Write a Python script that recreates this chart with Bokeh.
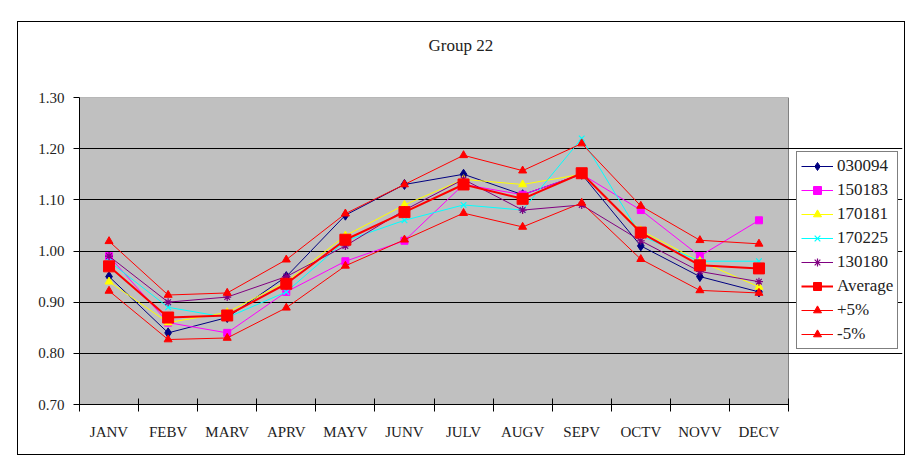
from bokeh.plotting import figure
from bokeh.models import (FixedTicker, Legend, LegendItem, Range1d,
                          PrintfTickFormatter, LinearAxis, CustomJSTickFormatter)
from bokeh.embed import file_html
from bokeh.resources import INLINE

months = ["JANV", "FEBV", "MARV", "APRV", "MAYV", "JUNV",
          "JULV", "AUGV", "SEPV", "OCTV", "NOVV", "DECV"]

s030094 = [0.95, 0.84, 0.87, 0.95, 1.07, 1.13, 1.15, 1.11, 1.15, 1.01, 0.95, 0.92]
s150183 = [0.99, 0.86, 0.84, 0.92, 0.98, 1.02, 1.13, 1.11, 1.15, 1.08, 0.99, 1.06]
s170181 = [0.94, 0.86, 0.88, 0.94, 1.03, 1.09, 1.14, 1.13, 1.15, 1.04, 0.98, 0.93]
s170225 = [0.98, 0.89, 0.87, 0.92, 1.02, 1.06, 1.09, 1.08, 1.22, 1.03, 0.98, 0.98]
s130180 = [0.99, 0.90, 0.91, 0.95, 1.01, 1.08, 1.14, 1.08, 1.09, 1.02, 0.96, 0.94]
average = [0.970, 0.870, 0.874, 0.936, 1.022, 1.076, 1.130, 1.102, 1.152, 1.036, 0.972, 0.966]
plus5 = [1.019, 0.914, 0.918, 0.983, 1.073, 1.130, 1.187, 1.157, 1.210, 1.088, 1.021, 1.014]
minus5 = [0.922, 0.827, 0.830, 0.889, 0.971, 1.022, 1.074, 1.047, 1.094, 0.984, 0.923, 0.918]

y_ticks = [0.70, 0.80, 0.90, 1.00, 1.10, 1.20, 1.30]
grid_ticks = [0.80, 0.90, 1.00, 1.10, 1.20]
y_lo, y_hi = 0.70, 1.30

FONT = "Liberation Serif"

n = len(months)
xc = [i + 0.5 for i in range(n)]

FW, FH = 823, 307          # frame (grey plot area + legend strip)
PLOT_W = 709               # width of the grey plot area in px
x_end = n * FW / PLOT_W

p = figure(frame_width=FW, frame_height=FH,
           x_range=Range1d(0, x_end), y_range=Range1d(y_lo, y_hi),
           output_backend="svg", toolbar_location=None,
           min_border_left=61, min_border_right=2,
           min_border_top=75, min_border_bottom=50)
p.styles = {"outline": "1.5px solid black", "transform": "translate(18px, 22px)"}

xa = p.below[0]
ya = p.left[0]

p.background_fill_color = "white"
p.border_fill_color = "white"
p.outline_line_color = None

# grey plot area
p.quad(left=0, right=n, bottom=y_lo, top=y_hi, fill_color="#C0C0C0",
       line_color="#808080", line_width=1, level="image")

# invisible spacer axis between the plot area and the title
spacer_axis = LinearAxis(ticker=FixedTicker(ticks=[0], minor_ticks=[]),
                         formatter=CustomJSTickFormatter(code="return ''"),
                         axis_line_color=None, major_tick_line_color=None,
                         minor_tick_line_color=None, major_tick_out=31,
                         major_tick_in=0, major_label_standoff=0,
                         major_label_text_font_size="0px")
p.add_layout(spacer_axis, "above")

p.title.text = "Group 22"
p.title.align = "left"
p.title.offset = 349
p.title.standoff = 23
p.title.text_font = FONT
p.title.text_font_size = "17px"
p.title.text_font_style = "normal"
p.title.text_color = "#222222"

# x axis (bottom)
xa.bounds = (0, n)
xa.ticker = FixedTicker(ticks=xc, minor_ticks=list(range(n + 1)))
xa.major_label_overrides = {v: m for v, m in zip(xc, months)}
xa.major_tick_line_color = None
xa.major_tick_out = 0
xa.major_tick_in = 0
xa.minor_tick_line_color = "black"
xa.minor_tick_in = 6
xa.minor_tick_out = 7
xa.major_label_standoff = 12
xa.major_label_text_font = FONT
xa.major_label_text_font_size = "15px"
xa.major_label_text_color = "#222222"
xa.axis_line_color = "black"

# y axis
ya.ticker = FixedTicker(ticks=y_ticks)
ya.formatter = PrintfTickFormatter(format="%.2f")
ya.major_tick_out = 6
ya.major_tick_in = 0
ya.minor_tick_line_color = None
ya.major_label_standoff = 9
ya.major_label_text_font = FONT
ya.major_label_text_font_size = "15px"
ya.major_label_text_color = "#222222"
ya.axis_line_color = "black"

p.xgrid.grid_line_color = None
p.ygrid.ticker = FixedTicker(ticks=grid_ticks)
p.ygrid.bounds = (0, n)
p.ygrid.grid_line_color = "black"
p.ygrid.grid_line_width = 1

series = [
    ("030094", s030094, "#000080", "diamond", 10, 1),
    ("150183", s150183, "#FF00FF", "square", 7, 1),
    ("170181", s170181, "#FFFF00", "triangle", 8, 1),
    ("170225", s170225, "#00FFFF", "x", 8, 1),
    ("130180", s130180, "#800080", "asterisk", 8, 1),
    ("Average", average, "#FF0000", "square", 11, 2),
    ("+5%", plus5, "#FF0000", "triangle", 8, 1),
    ("-5%", minus5, "#FF0000", "triangle", 8, 1),
]

items = []
for name, vals, col, mk, sz, lw in series:
    rl = p.line(xc, vals, line_color=col, line_width=lw)
    if mk in ("x", "asterisk"):
        rm = p.scatter(xc, vals, marker=mk, size=sz, line_color=col, line_width=1.2)
    else:
        rm = p.scatter(xc, vals, marker=mk, size=sz, fill_color=col, line_color=col)
    items.append(LegendItem(label=name, renderers=[rl, rm]))

legend = Legend(items=items, location=(717, 55))
legend.border_line_color = "black"
legend.border_line_width = 1
legend.background_fill_color = "white"
legend.background_fill_alpha = 1
legend.label_text_font = FONT
legend.label_text_font_size = "17px"
legend.label_text_color = "#222222"
legend.glyph_width = 32
legend.glyph_height = 20
legend.label_height = 20
legend.spacing = 4
legend.padding = 4
legend.margin = 0
legend.label_standoff = 4
p.add_layout(legend)

open("out.html", "w").write(file_html(p, INLINE))
